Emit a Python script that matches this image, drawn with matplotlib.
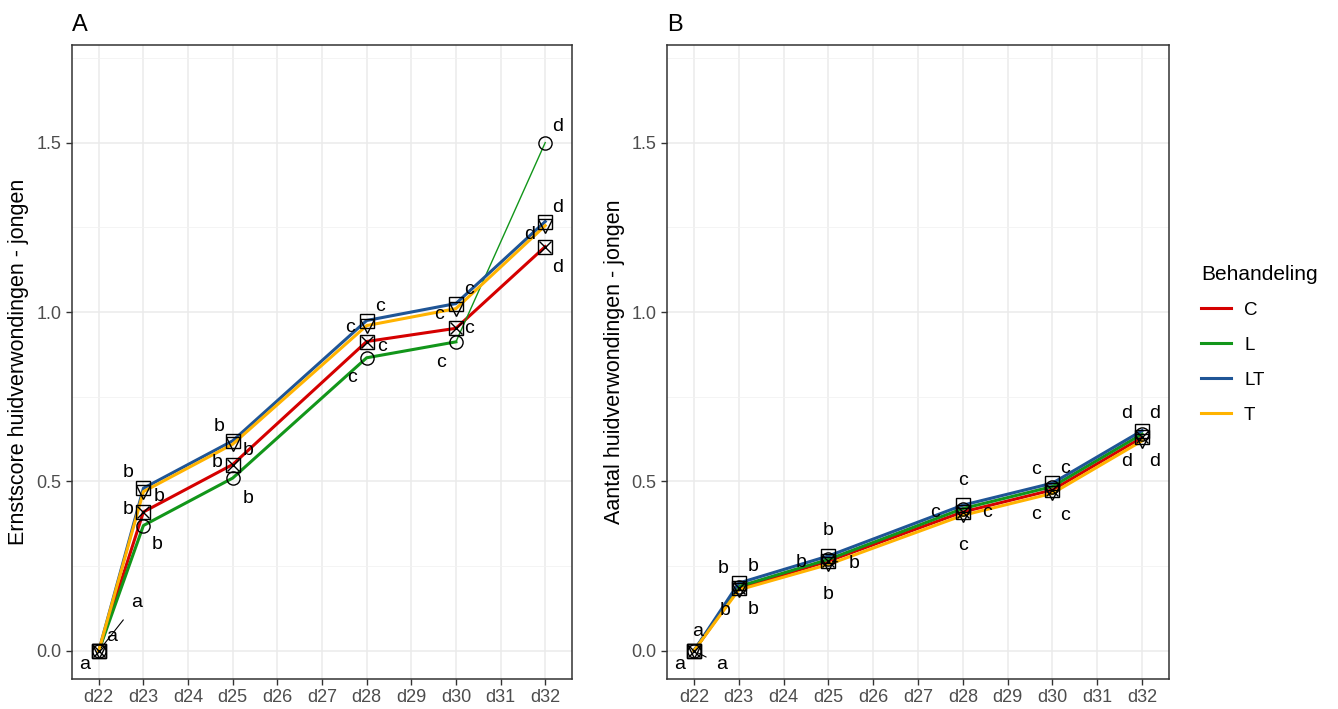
import matplotlib
matplotlib.use('Agg')
import matplotlib.pyplot as plt
from matplotlib.lines import Line2D

plt.rcParams['font.family'] = ['Liberation Sans', 'DejaVu Sans']

# data
all_days = ['d22', 'd23', 'd24', 'd25', 'd26', 'd27', 'd28', 'd29', 'd30', 'd31', 'd32']
days = ['d22', 'd23', 'd25', 'd28', 'd30', 'd32']
letters = ['a', 'b', 'b', 'c', 'c', 'd']
groups = ['C', 'L', 'LT', 'T']

ernst_C = [0.0, 0.41, 0.55, 0.913, 0.952, 1.193]
ernst_L = [0.0, 0.37, 0.51, 0.865, 0.912, 1.50]
ernst_LT = [0.0, 0.48, 0.62, 0.975, 1.025, 1.267]
ernst_T = [0.0, 0.47, 0.61, 0.96, 1.01, 1.255]

aantal_C = [0.0, 0.185, 0.265, 0.41, 0.475, 0.63]
aantal_L = [0.0, 0.19, 0.27, 0.42, 0.485, 0.64]
aantal_LT = [0.0, 0.20, 0.28, 0.43, 0.495, 0.65]
aantal_T = [0.0, 0.18, 0.255, 0.40, 0.465, 0.62]

# styles
colors = {'C': '#D50000', 'L': '#12961A', 'LT': '#1F5596', 'T': '#FFB300'}
markers = {'C': 's', 'L': 'o', 'LT': 's', 'T': 'v'}

# label offsets in pixels (dx, dy downwards), None = label dropped; third item = with segment
offs_A = {
    'C':  [(-14, 14), (-15, -2), (-16, -2), (15, 5), (13, 0), (12, 21)],
    'L':  [(13, -14), (14, 19), (15, 20), (-15, 20), (-15, 21), (12, -16)],
    'LT': [(38, -48, True), (-15, -16), (-14, -14), (13, -14), (13, -14), (12, -14)],
    'T':  [None, (16, 5), (15, 6), (-17, 2), (-17, 6), (-16, 9)],
}
offs_B = {
    'C':  [(-14, 14), (-14, 22), (26, 2, True), (24, 1), (-16, 25), (-15, 24)],
    'L':  [(4, -19), (14, -20), (-27, 3), (-28, 4), (13, -18), (13, -21)],
    'LT': [(28, 14, True), (-16, -15), (0, -26), (0, -25), (-16, -14), (-15, -17)],
    'T':  [None, (14, 20), (0, 30), (0, 30), (13, 22), (13, 21)],
}


def draw_panel(ax, series, offs, title, ylabel, thin_last_L=False):
    xs = [all_days.index(d) for d in days]
    for g in groups:
        ys = series[g]
        if g == 'L' and thin_last_L:
            ax.plot(xs[:-1], ys[:-1], color=colors[g], lw=2.2, zorder=3)
            ax.plot(xs[-2:], ys[-2:], color=colors[g], lw=1.0, zorder=3)
        else:
            ax.plot(xs, ys, color=colors[g], lw=2.2, zorder=3)
    for g in groups:
        ys = series[g]
        ax.plot(xs, ys, ls='none', marker=markers[g], ms=9.5, mfc='none',
                mec='black', mew=1.0, zorder=4)
        if g == 'C':
            ax.plot(xs, ys, ls='none', marker='x', ms=8, mec='black', mew=1.0, zorder=4)
    for g in groups:
        for i, o in enumerate(offs[g]):
            if o is None:
                continue
            seg = len(o) > 2
            ax.annotate(letters[i], (xs[i], series[g][i]), xytext=(o[0], -o[1]),
                        textcoords='offset pixels', ha='center', va='center',
                        fontsize=14, color='black', zorder=5,
                        arrowprops=dict(arrowstyle='-', color='black', lw=0.8,
                                        shrinkA=6, shrinkB=3) if seg else None)

    ax.set_xlim(-0.6, len(all_days) - 0.4)
    ax.set_ylim(-0.083, 1.788)
    ax.set_xticks(range(len(all_days)))
    ax.set_xticklabels(all_days)
    ax.set_yticks([0.0, 0.5, 1.0, 1.5])
    ax.set_yticklabels(['0.0', '0.5', '1.0', '1.5'])
    ax.set_yticks([0.25, 0.75, 1.25, 1.75], minor=True)
    ax.grid(True, which='major', color='#EBEBEB', lw=1.1, zorder=0)
    ax.grid(True, which='minor', axis='y', color='#F2F2F2', lw=0.6, zorder=0)
    ax.tick_params(axis='both', which='major', labelsize=13, labelcolor='#4D4D4D',
                   color='#333333', length=4, width=1)
    ax.tick_params(axis='y', which='minor', length=0)
    for s in ax.spines.values():
        s.set_color('#333333')
        s.set_linewidth(1.1)
    ax.set_ylabel(ylabel, fontsize=15.5, labelpad=5)
    ax.set_title(title, loc='left', fontsize=17, pad=10)


fig = plt.figure(figsize=(13.38, 7.09), dpi=100)
axA = fig.add_axes([0.0538, 0.0423, 0.3737, 0.8942])
axB = fig.add_axes([0.4985, 0.0423, 0.3752, 0.8942])

draw_panel(axA, {'C': ernst_C, 'L': ernst_L, 'LT': ernst_LT, 'T': ernst_T}, offs_A,
           'A', 'Ernstscore huidverwondingen - jongen', thin_last_L=True)
draw_panel(axB, {'C': aantal_C, 'L': aantal_L, 'LT': aantal_LT, 'T': aantal_T}, offs_B,
           'B', 'Aantal huidverwondingen - jongen')

handles = [Line2D([0], [0], color=colors[g], lw=2.2) for g in groups]
fig.legend(handles, groups, title='Behandeling', loc='upper left',
           bbox_to_anchor=(1184 / 1338, 1 - 248 / 709), frameon=False,
           fontsize=13.5, title_fontsize=15, handlelength=1.6,
           handletextpad=0.7, labelspacing=0.95, alignment='left')

fig.savefig('out.png', dpi=100)
